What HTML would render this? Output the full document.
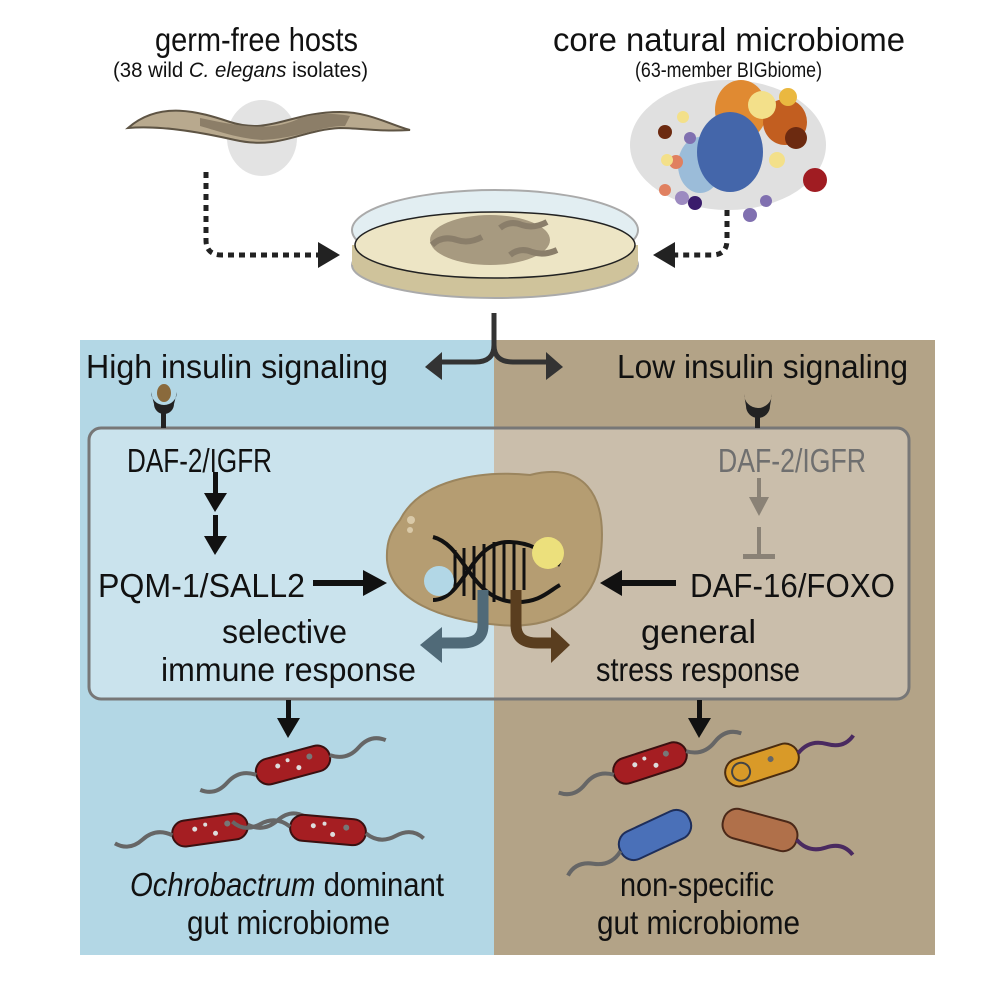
<!DOCTYPE html>
<html><head><meta charset="utf-8"><style>body{margin:0;background:#fff}svg{display:block}text{font-family:"Liberation Sans",sans-serif;fill:#111}</style></head><body>
<svg width="996" height="996" viewBox="0 0 996 996" xmlns="http://www.w3.org/2000/svg">
<defs>
<g id="rod"><rect x="-38" y="-13" width="76" height="26" rx="13" fill="#a51e22" stroke="#3a1010" stroke-width="2"/><circle cx="-15" cy="-3" r="2.5" fill="#ddd"/><circle cx="5" cy="4" r="2.5" fill="#ddd"/><circle cx="18" cy="-4" r="3" fill="#777"/><circle cx="-4" cy="-6" r="2" fill="#ddd"/><path d="M-38,0 q-15,-10 -30,0 q-15,10 -28,0" stroke="#666" stroke-width="4" fill="none"/><path d="M38,0 q15,10 30,0 q15,-10 28,0" stroke="#666" stroke-width="4" fill="none"/></g>
</defs>
<g lengthAdjust="spacingAndGlyphs">
<text x="155" y="51" font-size="33" textLength="203" lengthAdjust="spacingAndGlyphs">germ-free hosts</text>
<text x="113" y="77" font-size="21" textLength="255" lengthAdjust="spacingAndGlyphs">(38 wild <tspan font-style="italic">C. elegans</tspan> isolates)</text>
<text x="553" y="51" font-size="33" textLength="352" lengthAdjust="spacingAndGlyphs">core natural microbiome</text>
<text x="635" y="77" font-size="21" textLength="187" lengthAdjust="spacingAndGlyphs">(63-member BIGbiome)</text>
</g>
<ellipse cx="262" cy="138" rx="35" ry="38" fill="#e3e3e3"/>
<path d="M128,128 C160,100 200,112 230,122 C270,135 290,112 340,112 C370,112 390,125 410,130 C380,132 360,128 340,128 C300,130 280,150 235,140 C200,132 160,125 128,128z" fill="#b8a98e" stroke="#5e5444" stroke-width="2"/>
<path d="M200,118 C230,124 270,134 300,118 C320,112 340,114 350,116 L345,126 C320,126 300,138 262,140 C235,138 215,130 200,126z" fill="#8c7e68"/>
<ellipse cx="728" cy="145" rx="98" ry="65" fill="#e0e0e0"/>
<ellipse cx="741" cy="110" rx="26" ry="30" fill="#e08a32"/><ellipse cx="785" cy="122" rx="22" ry="23" fill="#c25e20"/><ellipse cx="700" cy="165" rx="22" ry="28" fill="#9bbcd9"/><ellipse cx="730" cy="152" rx="33" ry="40" fill="#4466aa"/><circle cx="762" cy="105" r="14" fill="#f3e08a"/><circle cx="788" cy="97" r="9" fill="#eab840"/><circle cx="796" cy="138" r="11" fill="#6c2a10"/><circle cx="815" cy="180" r="12" fill="#a01c22"/><circle cx="683" cy="117" r="6" fill="#f3e08a"/><circle cx="676" cy="162" r="7" fill="#e08060"/><circle cx="682" cy="198" r="7" fill="#9c8ac0"/><circle cx="695" cy="203" r="7" fill="#3a1c6c"/><circle cx="665" cy="190" r="6" fill="#e08060"/><circle cx="667" cy="160" r="6" fill="#f3e08a"/><circle cx="665" cy="132" r="7" fill="#6c2a10"/><circle cx="690" cy="138" r="6" fill="#8070b0"/><circle cx="766" cy="201" r="6" fill="#8070b0"/><circle cx="750" cy="215" r="7" fill="#8070b0"/><circle cx="777" cy="160" r="8" fill="#f3e08a"/>
<path d="M206,172 V240 Q206,255 222,255 H318" stroke="#222" stroke-width="5" stroke-dasharray="6,5" fill="none"/><path d="M318,242 L340,255 L318,268z" fill="#222"/>
<path d="M727,210 V240 Q727,255 712,255 H675" stroke="#222" stroke-width="5" stroke-dasharray="6,5" fill="none"/><path d="M675,242 L653,255 L675,268z" fill="#222"/>
<ellipse cx="495" cy="265" rx="143" ry="33" fill="#cfc39b" stroke="#aaa" stroke-width="2"/>
<rect x="352" y="245" width="286" height="20" fill="#cfc39b"/>
<ellipse cx="495" cy="230" rx="143" ry="40" fill="#cfe2ea" fill-opacity="0.6" stroke="#aaa" stroke-width="2"/>
<ellipse cx="495" cy="245" rx="140" ry="33" fill="#ede5c5" stroke="#222" stroke-width="1.5"/>
<ellipse cx="490" cy="240" rx="60" ry="25" fill="#a79a80"/>
<path d="M432,245 q10,-10 25,-5 q12,4 25,-3" stroke="#8a7e6a" stroke-width="6" fill="none"/><path d="M500,228 q10,-8 22,-3 q12,4 25,-3" stroke="#8a7e6a" stroke-width="6" fill="none"/><path d="M510,255 q10,-8 22,-3 q12,4 25,-2" stroke="#8a7e6a" stroke-width="6" fill="none"/>
<rect x="80" y="340" width="414" height="615" fill="#b3d7e5"/>
<rect x="494" y="340" width="441" height="615" fill="#b3a387"/>
<path d="M494,313 V345 Q494,362 475,362 H440" stroke="#333" stroke-width="5" fill="none"/><path d="M442,352 L425,367 L442,380z" fill="#333"/>
<path d="M494,345 Q494,362 513,362 H548" stroke="#333" stroke-width="5" fill="none"/><path d="M546,352 L563,367 L546,380z" fill="#333"/>
<text x="86" y="378" font-size="33" textLength="302" lengthAdjust="spacingAndGlyphs">High insulin signaling</text>
<text x="617" y="378" font-size="33" textLength="291" lengthAdjust="spacingAndGlyphs">Low insulin signaling</text>
<rect x="89" y="428" width="820" height="271" rx="12" fill="#fff" fill-opacity="0.3" stroke="#777" stroke-width="3"/>
<rect x="161" y="408" width="5" height="20" fill="#222"/><path d="M151,392 a12,12 0 0 0 26,0 l-3,12 a10,10 0 0 1 -20,0z" fill="#222"/><ellipse cx="164" cy="393" rx="7" ry="9" fill="#8a6a3c"/>
<rect x="755" y="408" width="5" height="20" fill="#222"/><path d="M744,394 a14,14 0 0 0 28,0 l-2,12 a12,12 0 0 1 -24,0z" fill="#222"/>
<text x="127" y="472" font-size="33" textLength="145" lengthAdjust="spacingAndGlyphs">DAF-2/IGFR</text>
<text x="718" y="472" font-size="33" textLength="148" lengthAdjust="spacingAndGlyphs" style="fill:#6f6f6f">DAF-2/IGFR</text>
<rect x="213" y="472" width="5" height="22" fill="#111"/><path d="M204,493 L227,493 L215,512z" fill="#111"/>
<rect x="213" y="515" width="5" height="22" fill="#111"/><path d="M204,536 L227,536 L215,555z" fill="#111"/>
<text x="98" y="597" font-size="33" textLength="207" lengthAdjust="spacingAndGlyphs">PQM-1/SALL2</text>
<rect x="313" y="580" width="52" height="6" fill="#111"/><path d="M363,570 L387,583 L363,596z" fill="#111"/>
<rect x="757" y="478" width="4" height="20" fill="#8a8276"/><path d="M749,497 L769,497 L759,516z" fill="#8a8276"/>
<rect x="757" y="527" width="4" height="28" fill="#8a8276"/><rect x="743" y="554" width="32" height="5" fill="#8a8276"/>
<text x="690" y="597" font-size="33" textLength="205" lengthAdjust="spacingAndGlyphs">DAF-16/FOXO</text>
<rect x="620" y="580" width="56" height="6" fill="#111"/><path d="M622,570 L600,583 L622,596z" fill="#111"/>
<path d="M400,520 C420,480 480,470 530,475 C580,462 610,490 600,560 C595,600 560,630 500,625 C440,620 390,600 387,560 C386,540 392,530 400,520z" fill="#b59d72" stroke="#9b855e" stroke-width="2"/>
<circle cx="411" cy="520" r="4" fill="#d9c9a8"/><circle cx="410" cy="530" r="3" fill="#d9c9a8"/>
<g stroke="#111" stroke-width="4" fill="none"><path d="M433,537 C465,545 470,600 515,602 C540,603 550,590 560,585"/><path d="M433,600 C465,600 470,540 510,542 C540,543 550,560 560,565"/></g>
<g stroke="#111" stroke-width="3"><line x1="455" y1="550" x2="455" y2="590"/><line x1="464" y1="548" x2="464" y2="596"/><line x1="474" y1="546" x2="474" y2="600"/><line x1="484" y1="544" x2="484" y2="602"/><line x1="494" y1="542" x2="494" y2="602"/><line x1="504" y1="542" x2="504" y2="600"/><line x1="514" y1="544" x2="514" y2="596"/><line x1="524" y1="548" x2="524" y2="590"/></g>
<circle cx="439" cy="581" r="15" fill="#b2d7e6"/><circle cx="548" cy="553" r="16" fill="#ece07c"/>
<path d="M483,590 V625 Q483,643 462,643 H440" stroke="#506a78" stroke-width="11" fill="none"/><path d="M442,627 L420,645 L442,663z" fill="#506a78"/>
<path d="M516,590 V625 Q516,643 537,643 H553" stroke="#5a3e1f" stroke-width="11" fill="none"/><path d="M551,627 L570,645 L551,663z" fill="#5a3e1f"/>
<text x="222" y="643" font-size="33" textLength="125" lengthAdjust="spacingAndGlyphs">selective</text>
<text x="161" y="681" font-size="33" textLength="255" lengthAdjust="spacingAndGlyphs">immune response</text>
<text x="641" y="643" font-size="33" textLength="115" lengthAdjust="spacingAndGlyphs">general</text>
<text x="596" y="681" font-size="33" textLength="204" lengthAdjust="spacingAndGlyphs">stress response</text>
<rect x="286" y="700" width="5" height="20" fill="#111"/><path d="M277,718 L300,718 L288,738z" fill="#111"/>
<rect x="697" y="700" width="5" height="20" fill="#111"/><path d="M688,718 L711,718 L699,738z" fill="#111"/>
<use href="#rod" transform="translate(293,765) rotate(-15)"/>
<use href="#rod" transform="translate(210,830) rotate(-8)"/>
<use href="#rod" transform="translate(328,830) rotate(5)"/>
<use href="#rod" transform="translate(650,763) rotate(-18)"/>
<g transform="translate(762,765) rotate(-18)"><rect x="-38" y="-14" width="76" height="28" rx="14" fill="#d99a28" stroke="#4a2c10" stroke-width="2"/><circle cx="-22" cy="0" r="9" fill="none" stroke="#444" stroke-width="2"/><circle cx="10" cy="-3" r="3" fill="#666"/><path d="M38,0 q15,-10 30,0 q15,10 28,0" stroke="#4a2a60" stroke-width="4" fill="none"/></g>
<g transform="translate(655,835) rotate(-25)"><rect x="-38" y="-15" width="76" height="30" rx="14" fill="#4a70b8" stroke="#1e2e5a" stroke-width="2"/><path d="M-38,0 q-15,10 -30,0 q-15,-10 -28,0" stroke="#666" stroke-width="4" fill="none"/></g>
<g transform="translate(760,830) rotate(15)"><rect x="-38" y="-15" width="76" height="30" rx="14" fill="#b0704a" stroke="#4a2818" stroke-width="2"/><path d="M38,0 q15,10 30,0 q15,-10 28,0" stroke="#4a2a60" stroke-width="4" fill="none"/></g>
<text x="130" y="896" font-size="33" textLength="314" lengthAdjust="spacingAndGlyphs"><tspan font-style="italic">Ochrobactrum</tspan> dominant</text>
<text x="187" y="934" font-size="33" textLength="203" lengthAdjust="spacingAndGlyphs">gut microbiome</text>
<text x="620" y="896" font-size="33" textLength="154" lengthAdjust="spacingAndGlyphs">non-specific</text>
<text x="597" y="934" font-size="33" textLength="203" lengthAdjust="spacingAndGlyphs">gut microbiome</text>
</svg>
</body></html>
